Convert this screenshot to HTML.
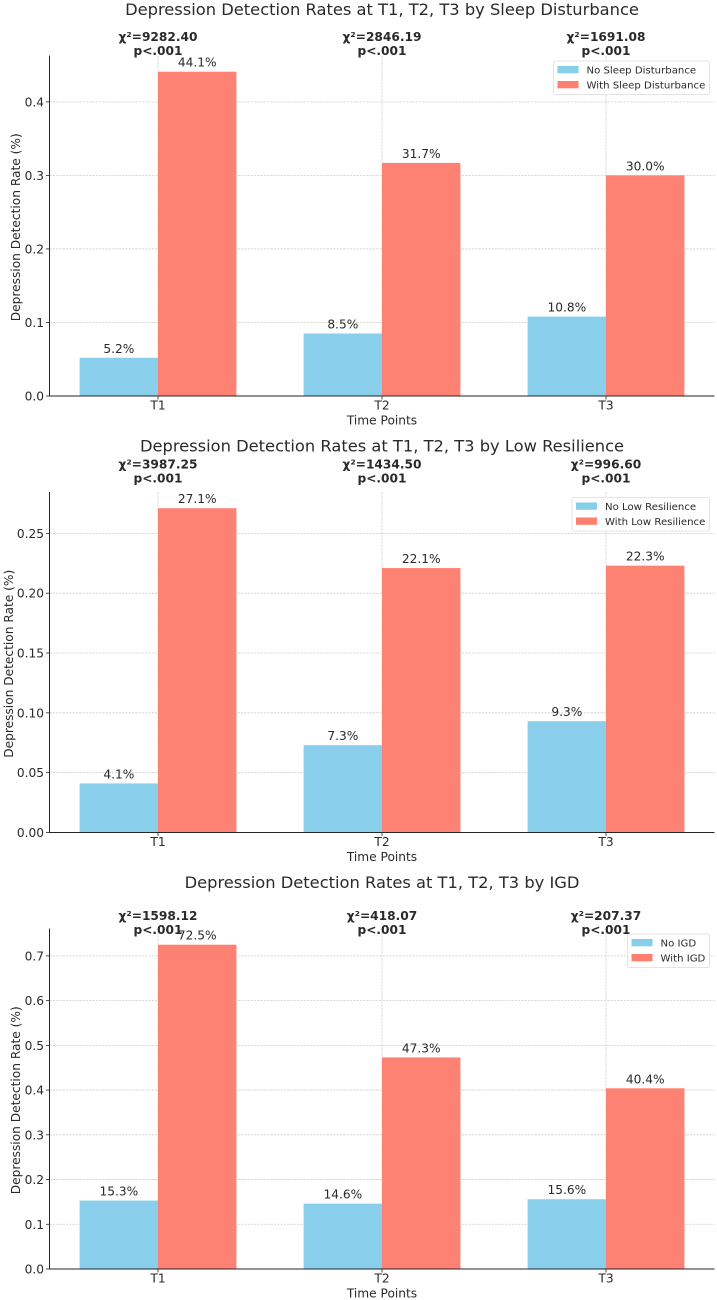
<!DOCTYPE html>
<html lang="en">
<head>
<meta charset="utf-8">
<title>Depression Detection Rates</title>
<style>
html,body{margin:0;padding:0;background:#fff;width:717px;height:1300px;overflow:hidden}
svg{display:block;font-family:"DejaVu Sans","Liberation Sans",sans-serif}
text{fill:#2a2a2a}
</style>
</head>
<body>
<svg id="chart" xmlns="http://www.w3.org/2000/svg" width="717" height="1300" viewBox="0 0 717 1300"></svg>
<script>
const timePoints = ['T1', 'T2', 'T3'];

const titles = [
  'Depression Detection Rates at T1, T2, T3 by Sleep Disturbance',
  'Depression Detection Rates at T1, T2, T3 by Low Resilience',
  'Depression Detection Rates at T1, T2, T3 by IGD'
];
const legendLabelsNo = ['No Sleep Disturbance', 'No Low Resilience', 'No IGD'];
const legendLabelsWith = ['With Sleep Disturbance', 'With Low Resilience', 'With IGD'];

const sleepNo = [0.052, 0.085, 0.108];
const sleepWith = [0.441, 0.317, 0.300];
const sleepChi = ['9282.40', '2846.19', '1691.08'];
const sleepTicks = ['0.0', '0.1', '0.2', '0.3', '0.4'];

const resilienceNo = [0.041, 0.073, 0.093];
const resilienceWith = [0.271, 0.221, 0.223];
const resilienceChi = ['3987.25', '1434.50', '996.60'];
const resilienceTicks = ['0.00', '0.05', '0.10', '0.15', '0.20', '0.25'];

const igdNo = [0.153, 0.146, 0.156];
const igdWith = [0.725, 0.473, 0.404];
const igdChi = ['1598.12', '418.07', '207.37'];
const igdTicks = ['0.0', '0.1', '0.2', '0.3', '0.4', '0.5', '0.6', '0.7'];

const NS = 'http://www.w3.org/2000/svg';
const root = document.getElementById('chart');

function make(parent, tag, attrs, txt) {
  const el = document.createElementNS(NS, tag);
  for (const k in attrs) el.setAttribute(k, attrs[k]);
  if (txt !== undefined) el.textContent = txt;
  parent.appendChild(el);
  return el;
}

function xAxis(i) { return 158 + i * 224; }

function drawPanel(p, noVals, withVals, chis, ticks) {
  const g = make(root, 'g', {});
  
  

  const bottom = p.bottom, top = p.top, left = 49.5, right = 714.5, bw = 78.4;
  const maxVal = Math.max(...withVals, ...noVals) * 1.05;
  const y = v => bottom - (v / maxVal) * (bottom - top);

  const title = make(g, 'text', {x: 382, y: p.titleY, 'text-anchor': 'middle', 'font-size': 16.3}, titles[p.index]);
  
  

  ticks.forEach(t => {
    const v = parseFloat(t), py = y(v);
    if (v > 0) {
      const gl = make(g, 'line', {x1: left, x2: right, y1: py, y2: py, stroke: '#cfcfcf', 'stroke-width': 0.8, 'stroke-dasharray': '2.2 1.1'});
      
      
    }
  });
  timePoints.forEach((t, i) => {
    const gl = make(g, 'line', {x1: xAxis(i), x2: xAxis(i), y1: top, y2: bottom, stroke: '#cfcfcf', 'stroke-width': 0.8, 'stroke-dasharray': '2.2 1.1'});
    
    
  });

  timePoints.forEach((t, i) => {
    const cx = xAxis(i);
    const b1 = make(g, 'rect', {x: cx - bw, y: y(noVals[i]), width: bw, height: bottom - y(noVals[i]), fill: '#87ceeb', 'fill-opacity': 0.98});
    
    
    const b2 = make(g, 'rect', {x: cx, y: y(withVals[i]), width: bw, height: bottom - y(withVals[i]), fill: '#fd7f70', 'fill-opacity': 0.98});
    
    

    const l1 = make(g, 'text', {x: cx - bw / 2, y: y(noVals[i]) - 5, 'text-anchor': 'middle', 'font-size': 12.2}, (noVals[i] * 100).toFixed(1) + '%');
    
    
    const l2 = make(g, 'text', {x: cx + bw / 2, y: y(withVals[i]) - 5, 'text-anchor': 'middle', 'font-size': 12.2}, (withVals[i] * 100).toFixed(1) + '%');
    
    

    const c = make(g, 'text', {x: cx, y: p.chiY, 'text-anchor': 'middle', 'font-size': 12.2, 'font-weight': 'bold'}, '\u03c7\u00b2=' + chis[i]);
    
    
    const pv = make(g, 'text', {x: cx, y: p.chiY + 14, 'text-anchor': 'middle', 'font-size': 12.2, 'font-weight': 'bold'}, 'p<.001');
    
    

    make(g, 'line', {x1: cx, x2: cx, y1: bottom, y2: bottom + 3.5, stroke: '#262626', 'stroke-width': 0.8});
    const tl = make(g, 'text', {x: cx, y: bottom + 13.7, 'text-anchor': 'middle', 'font-size': 12.2}, t);
    
    
  });

  ticks.forEach(t => {
    const py = y(parseFloat(t));
    make(g, 'line', {x1: left - 3.5, x2: left, y1: py, y2: py, stroke: '#262626', 'stroke-width': 0.8});
    const tl = make(g, 'text', {x: left - 5.5, y: py + 4.5, 'text-anchor': 'end', 'font-size': 12.2}, t);
    
    
  });

  const ax = make(g, 'path', {d: `M${left} ${top}V${bottom}H${right}`, fill: 'none', stroke: '#262626', 'stroke-width': 1});
  
  

  const xt = make(g, 'text', {x: 382, y: bottom + 28.7, 'text-anchor': 'middle', 'font-size': 12.2}, 'Time Points');
  
  
  const ycy = (top + bottom) / 2 + 1.5;
  const yt = make(g, 'text', {x: p.yTitleX, y: ycy, 'text-anchor': 'middle', 'font-size': 12.2, transform: `rotate(-90 ${p.yTitleX} ${ycy})`}, 'Depression Detection Rate (%)');
  
  

  const lg = make(g, 'g', {});
  
  
  const lx = p.legendX, ly = p.legendY;
  make(lg, 'rect', {x: lx, y: ly, width: 709.5 - lx, height: 33.5, rx: 2, fill: '#fff', 'fill-opacity': 0.85, stroke: '#dcdcdc', 'stroke-width': 0.8});
  const s1 = make(lg, 'rect', {x: lx + 4, y: ly + 5, width: 21, height: 7.3, fill: '#87ceeb'});
  
  
  const s2 = make(lg, 'rect', {x: lx + 4, y: ly + 20, width: 21, height: 7.3, fill: '#fd7f70'});
  
  
  const t1 = make(lg, 'text', {x: lx + 33, y: ly + 12.4, 'font-size': 10.15}, legendLabelsNo[p.index]);
  
  
  const t2 = make(lg, 'text', {x: lx + 33, y: ly + 27.4, 'font-size': 10.15}, legendLabelsWith[p.index]);
  
  
}

drawPanel({index: 0, top: 55.5, bottom: 396, titleY: 15, chiY: 41, yTitleX: 20, legendX: 553.5, legendY: 61}, sleepNo, sleepWith, sleepChi, sleepTicks);
drawPanel({index: 1, top: 492, bottom: 832.5, titleY: 451.5, chiY: 468.3, yTitleX: 13, legendX: 572, legendY: 497.5}, resilienceNo, resilienceWith, resilienceChi, resilienceTicks);
drawPanel({index: 2, top: 928.5, bottom: 1269, titleY: 888, chiY: 920, yTitleX: 20, legendX: 627.5, legendY: 934}, igdNo, igdWith, igdChi, igdTicks);
</script>
</body>
</html>
